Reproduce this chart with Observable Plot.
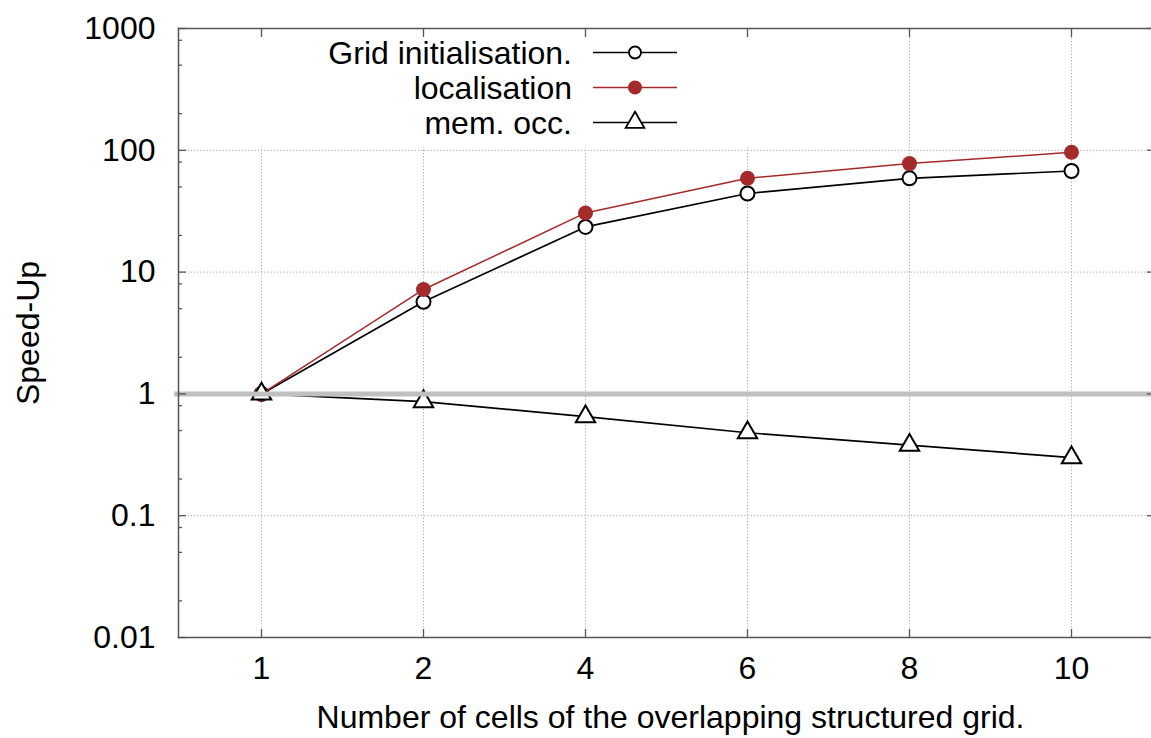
<!DOCTYPE html>
<html><head><meta charset="utf-8">
<script src="https://cdn.jsdelivr.net/npm/d3@7"></script>
<script src="https://cdn.jsdelivr.net/npm/@observablehq/plot@0.6"></script>
<style>html,body{margin:0;padding:0;background:#fff} #chart svg{display:block}</style>
</head><body><div id="chart"></div>
<script>
// ---- data ----
const cells = ["1", "2", "4", "6", "8", "10"];
const gridInit = [1.0, 5.7, 23.5, 44.2, 58.9, 67.6];
const localisation = [1.0, 7.2, 30.6, 58.9, 77.8, 96.3];
const memOcc = [1.0, 0.865, 0.65, 0.48, 0.38, 0.30];
const seriesNames = ["Grid initialisation.", "localisation", "mem. occ."];
const yTicks = [0.01, 0.1, 1, 10, 100, 1000];
const yMinorMult = [2, 5, 8];
const xTitle = "Number of cells of the overlapping structured grid.";
const yTitle = "Speed-Up";
const RED = "#a52a2a";

const rows = (vals) => cells.map((c, i) => ({cell: c, v: vals[i]}));
const gridRows = rows(gridInit), locRows = rows(localisation), memRows = rows(memOcc);
const yMinor = yTicks.slice(0, -1).flatMap(t => yMinorMult.map(m => +(t * m).toPrecision(3)));

const gridStyle = {stroke: "#a8a8a8", strokeDasharray: "1.2,2", strokeWidth: 1};
const axisColor = "#555";
const FS = 32;

// legend (opaque key box like gnuplot)
function legend() {
  const g = d3.create("svg:g");
  g.append("rect").attr("x", 179).attr("y", 29).attr("width", 650).attr("height", 118).attr("fill", "#fff");
  const styles = [
    {stroke: "#000", sym: "circle"},
    {stroke: RED, sym: "dot"},
    {stroke: "#000", sym: "triangle"}
  ];
  seriesNames.forEach((name, i) => {
    const y = 52.5 + 35 * i;
    g.append("text").attr("x", 572).attr("y", y).attr("dy", "0.35em")
      .attr("text-anchor", "end").attr("fill", "#000").attr("font-size", FS).text(name);
    g.append("line").attr("x1", 593).attr("x2", 677).attr("y1", y).attr("y2", y)
      .attr("stroke", styles[i].stroke).attr("stroke-width", 1.6);
    const s = styles[i].sym;
    if (s === "circle") g.append("circle").attr("cx", 635).attr("cy", y).attr("r", 6).attr("fill", "#fff").attr("stroke", "#000").attr("stroke-width", 1.8);
    else if (s === "dot") g.append("circle").attr("cx", 635).attr("cy", y).attr("r", 7).attr("fill", RED);
    else g.append("path").attr("transform", `translate(635,${y})`).attr("d", d3.symbol(d3.symbolTriangle, 151)())
      .attr("fill", "#fff").attr("stroke", "#000").attr("stroke-width", 1.8);
  });
  return g.node();
}

const chart = Plot.plot({
  width: 1151, height: 738,
  marginLeft: 178, marginRight: -3, marginTop: 28, marginBottom: 101,
  style: {fontFamily: "'Liberation Sans', Arial, sans-serif", fontSize: FS + "px", color: "#000", background: "#fff"},
  x: {type: "point", domain: cells, padding: 0.5},
  y: {type: "log", domain: [0.01, 1000]},
  marks: [
    Plot.ruleY(yTicks, gridStyle),
    Plot.ruleX(cells, gridStyle),
    legend,
    Plot.line(gridRows, {x: "cell", y: "v", stroke: "#000", strokeWidth: 1.7}),
    Plot.line(locRows, {x: "cell", y: "v", stroke: RED, strokeWidth: 1.5}),
    Plot.line(memRows, {x: "cell", y: "v", stroke: "#000", strokeWidth: 1.7}),
    Plot.dot(gridRows, {x: "cell", y: "v", r: 7, fill: "#fff", stroke: "#000", strokeWidth: 2}),
    Plot.dot(locRows, {x: "cell", y: "v", r: 7.5, fill: RED}),
    Plot.dot(memRows, {x: "cell", y: "v", symbol: "triangle", r: 7.2, fill: "#fff", stroke: "#000", strokeWidth: 2}),
    Plot.ruleY([1], {stroke: "#c0c0c0", strokeWidth: 5, insetLeft: -4}),
    Plot.frame({anchor: "left", stroke: axisColor, strokeWidth: 1.5}),
    Plot.frame({anchor: "top", stroke: axisColor, strokeWidth: 1.5}),
    Plot.frame({anchor: "bottom", stroke: axisColor, strokeWidth: 1.5}),
    // inward ticks
    Plot.axisY(yTicks, {anchor: "left", tickSize: -8, tickFormat: () => "", label: null, stroke: axisColor, strokeWidth: 1.3}),
    Plot.axisY(yMinor, {anchor: "left", tickSize: -4, tickFormat: () => "", label: null, stroke: axisColor, strokeWidth: 1.3}),
    Plot.axisY(yTicks, {anchor: "right", tickSize: -8, tickFormat: () => "", label: null, stroke: axisColor, strokeWidth: 1.3}),
    Plot.axisY(yMinor, {anchor: "right", tickSize: -4, tickFormat: () => "", label: null, stroke: axisColor, strokeWidth: 1.3}),
    Plot.axisX(cells, {anchor: "bottom", tickSize: -8, tickFormat: () => "", label: null, stroke: axisColor, strokeWidth: 1.3}),
    Plot.axisX(cells, {anchor: "top", tickSize: -8, tickFormat: () => "", label: null, stroke: axisColor, strokeWidth: 1.3}),
    // tick labels
    Plot.axisY(yTicks, {anchor: "left", tickSize: 0, tickPadding: 23, tickFormat: d => String(d), label: null, fill: "#000"}),
    Plot.axisX(cells, {anchor: "bottom", tickSize: 0, tickPadding: 19, label: null, fill: "#000"}),
    // titles
    Plot.text([yTitle], {frameAnchor: "left", dx: -150, rotate: -90, textAnchor: "middle", lineAnchor: "middle", fill: "#000"}),
    Plot.text([xTitle], {frameAnchor: "bottom", dy: 68, dx: 4, textAnchor: "middle", lineAnchor: "top", fill: "#000"})
  ]
});
document.getElementById("chart").appendChild(chart);
</script>
</body></html>
